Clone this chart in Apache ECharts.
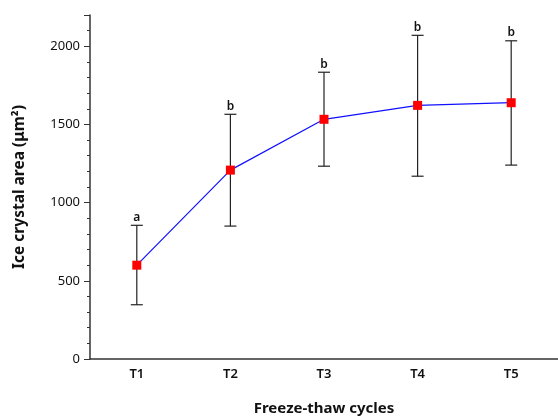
<!DOCTYPE html>
<html><head><meta charset="utf-8">
<script src="https://cdn.jsdelivr.net/npm/echarts@6/dist/echarts.min.js"></script>
<style>html,body{margin:0;padding:0;background:#fff}#c{width:558px;height:417px}</style>
</head><body><div id="c"></div>
<script>
const categories = ['T1','T2','T3','T4','T5'];
const means = [600, 1208, 1533, 1622, 1639];
const upper = [855, 1565, 1834, 2070, 2035];
const lower = [347, 850, 1233, 1169, 1240];
const letters = ['a','b','b','b','b'];
const yTicks = [0, 500, 1000, 1500, 2000];

const FONT = '"Noto Sans", "Open Sans", sans-serif';
const chart = echarts.init(document.getElementById('c'));
chart.setOption({
  animation: false,
  grid: {left: 90, right: 0, top: 15, bottom: 58, outerBoundsMode: 'none', containLabel: false},
  xAxis: {
    type: 'category', data: categories, boundaryGap: true,
    name: 'Freeze-thaw cycles', nameLocation: 'middle', nameGap: 42,
    nameTextStyle: {fontFamily: FONT, fontSize: 15, fontWeight: 'bold', color: '#111'},
    axisLine: {lineStyle: {color: '#333', width: 1.5}},
    axisTick: {alignWithLabel: true, length: 5, lineStyle: {color: '#333'}},
    axisLabel: {fontFamily: FONT, fontSize: 13, color: '#111', fontWeight: 600, margin: 9},
    splitLine: {show: false}
  },
  yAxis: {
    type: 'value', min: 0, max: 2200, interval: 500,
    name: 'Ice crystal area (μm²)', nameLocation: 'middle', nameGap: 62, nameRotate: 90,
    nameTextStyle: {fontFamily: FONT, fontSize: 15.5, fontWeight: 'bold', color: '#111'},
    axisLine: {show: true, lineStyle: {color: '#333', width: 1.5}},
    axisTick: {show: true, inside: false, length: 6, lineStyle: {color: '#333'}},
    minorTick: {show: true, splitNumber: 5, length: 3, lineStyle: {color: '#333'}},
    axisLabel: {fontFamily: FONT, fontSize: 13, color: '#111', margin: 10,
      formatter: v => yTicks.includes(v) ? String(v) : ''},
    splitLine: {show: false}
  },
  series: [
    {
      type: 'custom',
      data: categories.map((c, i) => [i, lower[i], upper[i], letters[i]]),
      encode: {x: 0, y: [1, 2]},
      renderItem: function (params, api) {
        const x = api.value(0);
        const lo = api.coord([x, api.value(1)]);
        const hi = api.coord([x, api.value(2)]);
        const w = 6;
        const st = {stroke: '#222', lineWidth: 1.2};
        return {
          type: 'group',
          children: [
            {type: 'line', shape: {x1: lo[0], y1: lo[1], x2: hi[0], y2: hi[1]}, style: st},
            {type: 'line', shape: {x1: lo[0]-w, y1: lo[1], x2: lo[0]+w, y2: lo[1]}, style: st},
            {type: 'line', shape: {x1: hi[0]-w, y1: hi[1], x2: hi[0]+w, y2: hi[1]}, style: st},
            {type: 'text', style: {text: letters[params.dataIndex], x: hi[0], y: hi[1] - 2,
              textAlign: 'center', textVerticalAlign: 'bottom',
              font: '600 12px ' + FONT, fill: '#111'}}
          ]
        };
      },
      z: 1
    },
    {
      type: 'line', data: means,
      symbol: 'rect', symbolSize: 9,
      lineStyle: {color: '#1010ff', width: 1.2},
      itemStyle: {color: '#ff0000'},
      z: 3
    }
  ]
});
</script></body></html>
